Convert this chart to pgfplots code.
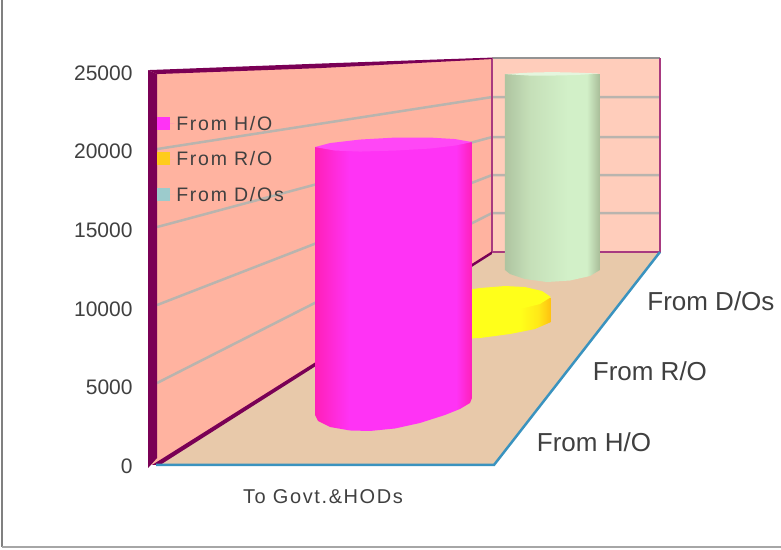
\documentclass[border=0pt]{standalone}
\usepackage{fontspec}
\setmainfont{Liberation Sans}
\usepackage{pgfplots}
\pgfplotsset{compat=1.18}
\definecolor{wallL}{HTML}{FFB3A0}
\definecolor{wallR}{HTML}{FFCDBB}
\definecolor{floorC}{HTML}{E8C9AA}
\definecolor{edgeD}{HTML}{7A0055}
\definecolor{edgeP}{HTML}{A83A80}
\definecolor{edgeB}{HTML}{3A93BF}
\definecolor{gridC}{HTML}{B9B4AE}
\definecolor{txt}{HTML}{404040}
\definecolor{magA}{HTML}{FF20B8}
\definecolor{magB}{HTML}{FF33F5}
\definecolor{grnA}{HTML}{AEC4A0}
\definecolor{grnB}{HTML}{C5DFB8}
\definecolor{grnC}{HTML}{D2F0C8}
\definecolor{grnD}{HTML}{A8BC98}
\definecolor{yelA}{HTML}{FFFF1A}
\definecolor{yelB}{HTML}{FFE818}
\definecolor{yelC}{HTML}{FFC010}
\definecolor{legR}{HTML}{FFCC1A}
\definecolor{legD}{HTML}{9CCBCC}
\pgfdeclarehorizontalshading{magcyl}{100bp}{
  color(0bp)=(magA); color(25bp)=(magA); color(36bp)=(magB); color(58bp)=(magB); color(70bp)=(magB); color(75bp)=(magA); color(100bp)=(magA)}
\pgfdeclarehorizontalshading{grncyl}{100bp}{
  color(0bp)=(grnA); color(25bp)=(grnA); color(38bp)=(grnB); color(58bp)=(grnC); color(68bp)=(grnC); color(75bp)=(grnD); color(100bp)=(grnD)}
\pgfdeclarehorizontalshading{yelcyl}{100bp}{
  color(0bp)=(yelA); color(25bp)=(yelA); color(58bp)=(yelA); color(68bp)=(yelB); color(75bp)=(yelC); color(100bp)=(yelC)}
\begin{document}
\begin{tikzpicture}
\begin{axis}[
  scale only axis, width=781pt, height=549pt,
  xmin=0, xmax=781, ymin=-5343.5, ymax=29580,
  axis line style={draw=none},
  major tick length=0pt,
  scaled y ticks=false,
  ytick={0,5000,10000,15000,20000,25000},
  xtick={323}, xticklabels={To Govt.\&HODs},
  y tick label style={anchor=east, xshift=136pt, yshift=-1pt, font=\fontsize{21}{21}\selectfont, text=txt},
  x tick label style={anchor=center, yshift=52pt, font=\fontsize{20}{20}\selectfont\addfontfeature{LetterSpace=8}, text=txt},
  /pgf/number format/assume math mode=true,
  /pgf/number format/set thousands separator={},
  legend style={at={(axis cs:157,22350)}, anchor=north west, draw=none, fill=none, inner sep=0pt,
    font=\fontsize{19.5}{19.5}\selectfont\addfontfeature{LetterSpace=9}, text=txt, row sep=16pt},
  legend cell align=left,
  legend image code/.code={\fill[#1, draw=none] (0pt,-6pt) rectangle (13pt,7pt); \path[draw=none] (0pt,0pt) -- (17pt,0pt);},
  bg/.style={forget plot, draw=none, no markers},
  ln/.style={forget plot, no markers},
]
% walls and floor
\addplot[bg, fill=floorC] coordinates {(150,0) (494,0) (660,13550) (492,13550)} --cycle;
\addplot[bg, fill=wallL] coordinates {(152,0) (152,25000) (492,25890) (492,13550)} --cycle;
\addplot[bg, fill=wallR] coordinates {(492,13550) (492,25890) (660,25890) (660,13550)} --cycle;
% grid lines
\addplot[ln, gridC, line width=2.5pt] coordinates {(157,5216) (492,16030) (660,16030)};
\addplot[ln, gridC, line width=2.5pt] coordinates {(157,10178) (492,18448) (660,18448)};
\addplot[ln, gridC, line width=2.5pt] coordinates {(157,15140) (492,20865) (660,20865)};
\addplot[ln, gridC, line width=2.5pt] coordinates {(157,20102) (492,23410) (660,23410)};
% wall edges
\addplot[ln, gray!85, line width=1.5pt] coordinates {(492,25890) (660,25890)};
\addplot[ln, edgeP, line width=1.3pt] coordinates {(492,13550) (660,13550) (660,25890)};
\addplot[ln, edgeP, line width=2.5pt] coordinates {(492,13550) (492,25890)};
\addplot[bg, fill=edgeD] coordinates {(148,25127) (320,25541) (492,25922) (492,25827) (320,25254) (157,24873)} --cycle;
\addplot[bg, fill=edgeD] coordinates {(148,25127) (157,24873) (157,445) (148,-191)} --cycle;
\addplot[bg, fill=edgeD] coordinates {(152,0) (492,13600) (492,13420) (160,0)} --cycle;
\addplot[ln, edgeB, line width=2.5pt] coordinates {(156,0) (494,0) (660,13550)};
% green cylinder, From D/Os
\addplot[bg, shade, shading=grncyl] coordinates {(505,24873) (505,12405) (510,12150) (525,11832) (547,11641) (570,11737) (590,12023) (600,12405) (600,24873)} --cycle;
\addplot[bg, fill=grnC!60!white] coordinates {(505,24873) (530,24968) (552,25000) (575,24968) (600,24904) (575,24809) (552,24777) (530,24777)} --cycle;
% yellow cylinder, From R/O
\addplot[bg, shade, shading=yelcyl] coordinates {(460,10751) (551,10623) (551,9097) (535,8651) (510,8333) (480,8079) (460,8015)} --cycle;
\addplot[bg, fill=yelA] coordinates {(460,11069) (480,11260) (505,11387) (525,11323) (542,11069) (551,10687) (540,10242) (520,9924) (495,9669) (472,9574) (460,9574)} --cycle;
% magenta cylinder, From H/O
\addplot[bg, shade, shading=magcyl] coordinates {(315,20229) (315,3181) (318,2799) (330,2417) (350,2195) (370,2163) (395,2322) (420,2672) (445,3181) (460,3562) (470,3944) (472,4262) (472,20547)} --cycle;
\addplot[bg, fill=magB!90!white] coordinates {(315,20229) (330,20483) (360,20706) (395,20833) (430,20833) (455,20738) (472,20547) (455,20324) (430,20134) (395,20006) (360,19943) (335,20006)} --cycle;
% outer frame
\addplot[ln, gray, line width=1.2pt] coordinates {(2,29580) (2,-5216)};
\addplot[ln, gray!70, line width=1.2pt] coordinates {(2,-5216) (781,-5216)};
% legend
\addlegendimage{fill=magB}
\addlegendentry{From H/O}
\addlegendimage{fill=legR}
\addlegendentry{From R/O}
\addlegendimage{fill=legD}
\addlegendentry{From D/Os}
% depth labels
\node[font=\fontsize{26}{26}\selectfont, text=txt] at (axis cs:594,1463) {From H/O};
\node[font=\fontsize{26}{26}\selectfont, text=txt] at (axis cs:650,5980) {From R/O};
\node[font=\fontsize{26}{26}\selectfont, text=txt] at (axis cs:711,10433) {From D/Os};
\end{axis}
\end{tikzpicture}
\end{document}
